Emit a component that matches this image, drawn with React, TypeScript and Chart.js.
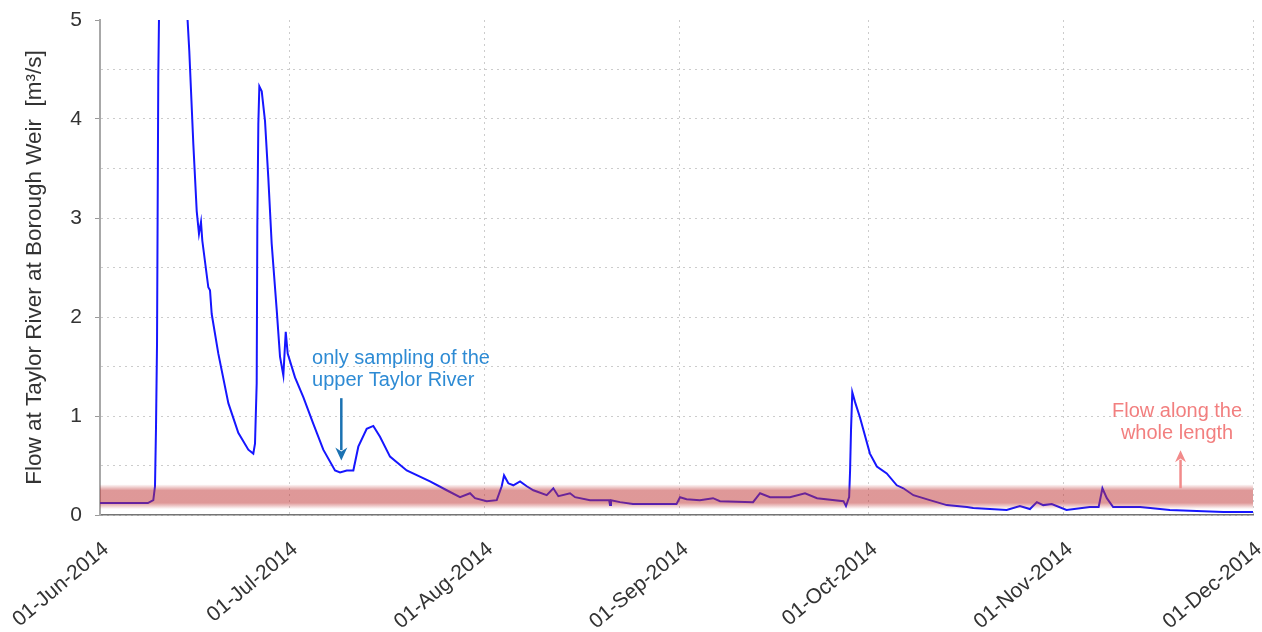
import { useEffect, useRef } from "react";
import { Chart, registerables } from "chart.js";

Chart.register(...registerables);

// Days since 01-Jun-2014 for each gauged reading
const dayOffsets = [
  0, 7.6, 8.46, 8.73, 8.89, 9.05, 9.25, 9.7, 11.0, 12.5, 13.9, 14.17, 14.81, 15.35, 15.71, 16.03,
  16.24, 17.19, 17.46, 17.73, 18.78, 20.37, 21.95, 23.54, 24.33, 24.6, 24.87, 24.97, 25.13, 25.29,
  25.67, 26.19, 26.71, 27.25, 28.05, 28.57, 29.1, 29.48, 29.79, 30.95, 32.27, 33.86, 35.44, 37.3,
  38.1, 39.16, 40.21, 41.0, 42.33, 43.38, 44.44, 46.03, 48.68, 52.38, 55.03, 57.14, 58.73, 59.52,
  61.38, 62.97, 63.76, 64.13, 64.81, 65.6, 66.67, 67.73, 68.78, 70.9, 71.95, 72.75, 74.6, 75.4,
  77.78, 80.8, 80.95, 81.1, 82.54, 84.6, 91.5, 92.06, 93.1, 95.2, 97.3, 98.4, 103.65, 104.76,
  106.35, 109.5, 111.9, 113.8, 118.0, 118.4, 118.9, 119.05, 119.2, 119.4, 119.84, 120.6, 122.2,
  123.3, 124.87, 126.46, 127.5, 129.1, 131.7, 134.4, 137.6, 138.6, 143.9, 146.0, 147.6, 148.7,
  149.7, 151.06, 153.4, 157.1, 158.5, 159.1, 159.8, 160.8, 165.1, 166.7, 169.8, 178.3, 183,
];

// Flow at Borough Weir (m³/s)
const flowValues = [
  0.12, 0.12, 0.15, 0.29, 0.89, 1.73, 4.42, 6.8, 7.6, 6.2, 5.0, 4.69, 3.75, 3.07, 2.84, 2.96,
  2.77, 2.3, 2.27, 2.03, 1.63, 1.13, 0.83, 0.66, 0.62, 0.72, 1.33, 2.91, 3.95, 4.33,
  4.28, 3.98, 3.41, 2.74, 2.07, 1.6, 1.41, 1.85, 1.63, 1.39, 1.19, 0.92, 0.66, 0.45,
  0.43, 0.45, 0.45, 0.69, 0.87, 0.9, 0.79, 0.59, 0.45, 0.34, 0.25, 0.18, 0.22, 0.17,
  0.14, 0.15, 0.29, 0.4, 0.32, 0.3, 0.34, 0.29, 0.25, 0.2, 0.27, 0.19, 0.22, 0.18,
  0.15, 0.15, 0.1, 0.15, 0.13, 0.11, 0.11, 0.18, 0.16, 0.15, 0.17, 0.14, 0.13, 0.22,
  0.18, 0.18, 0.22, 0.17, 0.14, 0.09, 0.18, 0.45, 0.86, 1.24, 1.14, 0.99, 0.62,
  0.49, 0.42, 0.3, 0.27, 0.2, 0.15, 0.1, 0.08, 0.07, 0.05, 0.09, 0.06, 0.13,
  0.1, 0.11, 0.05, 0.08, 0.08, 0.27, 0.17, 0.08, 0.08, 0.07, 0.05, 0.03, 0.03,
];

const monthTickDays = [0, 30, 61, 92, 122, 153, 183];
const monthTickLabels = [
  "01-Jun-2014",
  "01-Jul-2014",
  "01-Aug-2014",
  "01-Sep-2014",
  "01-Oct-2014",
  "01-Nov-2014",
  "01-Dec-2014",
];

const yAxisTitle = "Flow at Taylor River at Borough Weir  [m³/s]";

// Flow range at which the river runs along its whole length
const wholeLengthBandLow = 0.06;
const wholeLengthBandHigh = 0.31;

// Notes placed in data coordinates (day, flow)
const upperNoteLines = ["only sampling of the", "upper Taylor River"];
const upperNoteAt = { day: 33.65, flow: 1.53 };
const upperArrow = { day: 38.3, from: 1.18, to: 0.55 };
const wholeNoteLines = ["Flow along the", "whole length"];
const wholeNoteAt = { day: 170.95, flow: 0.99 };
const wholeArrow = { day: 171.5, from: 0.27, to: 0.655 };

const FONT = "'Liberation Sans', Arial, sans-serif";

function drawArrow(
  ctx: CanvasRenderingContext2D,
  x: number,
  yFrom: number,
  yTo: number,
  color: string,
  width: number,
  headLen: number,
  headHalf: number
) {
  const dir = yTo > yFrom ? 1 : -1;
  ctx.save();
  ctx.strokeStyle = color;
  ctx.fillStyle = color;
  ctx.lineWidth = width;
  ctx.beginPath();
  ctx.moveTo(x, yFrom);
  ctx.lineTo(x, yTo - dir * headLen * 0.8);
  ctx.stroke();
  ctx.beginPath();
  ctx.moveTo(x, yTo);
  ctx.lineTo(x - headHalf, yTo - dir * headLen);
  ctx.lineTo(x, yTo - dir * headLen * 0.7);
  ctx.lineTo(x + headHalf, yTo - dir * headLen);
  ctx.closePath();
  ctx.fill();
  ctx.restore();
}

const bandPlugin = {
  id: "wholeLengthBand",
  afterDatasetsDraw(chart: any) {
    const { ctx, chartArea, scales } = chart;
    const yTop = scales.y.getPixelForValue(wholeLengthBandHigh);
    const yBot = scales.y.getPixelForValue(wholeLengthBandLow);
    const g = ctx.createLinearGradient(0, yTop, 0, yBot);
    g.addColorStop(0, "rgba(190,50,50,0)");
    g.addColorStop(0.25, "rgba(190,50,50,0.5)");
    g.addColorStop(0.75, "rgba(190,50,50,0.5)");
    g.addColorStop(1, "rgba(190,50,50,0)");
    ctx.save();
    ctx.fillStyle = g;
    ctx.fillRect(chartArea.left, yTop, chartArea.right - chartArea.left, yBot - yTop);
    ctx.restore();
  },
};

const notesPlugin = {
  id: "flowNotes",
  afterDraw(chart: any) {
    const { ctx, scales } = chart;
    const x = scales.x;
    const y = scales.y;
    const lineGap = 22;
    ctx.save();
    ctx.font = `20px ${FONT}`;
    ctx.textBaseline = "alphabetic";

    ctx.fillStyle = "#2e8bd4";
    ctx.textAlign = "left";
    const ux = x.getPixelForValue(upperNoteAt.day);
    const uy = y.getPixelForValue(upperNoteAt.flow);
    upperNoteLines.forEach((t, i) => ctx.fillText(t, ux, uy + i * lineGap));
    drawArrow(
      ctx,
      x.getPixelForValue(upperArrow.day),
      y.getPixelForValue(upperArrow.from),
      y.getPixelForValue(upperArrow.to),
      "#1b72b2",
      2.5,
      13,
      6
    );

    ctx.fillStyle = "#f27f7f";
    ctx.textAlign = "center";
    const wx = x.getPixelForValue(wholeNoteAt.day);
    const wy = y.getPixelForValue(wholeNoteAt.flow);
    wholeNoteLines.forEach((t, i) => ctx.fillText(t, wx, wy + i * lineGap));
    drawArrow(
      ctx,
      x.getPixelForValue(wholeArrow.day),
      y.getPixelForValue(wholeArrow.from),
      y.getPixelForValue(wholeArrow.to),
      "#f28a8a",
      2.5,
      12,
      5.5
    );
    ctx.restore();
  },
};

export default function App() {
  const canvasRef = useRef<HTMLCanvasElement>(null);

  useEffect(() => {
    document.body.style.margin = "0";
    const canvas = canvasRef.current;
    if (!canvas) return;
    const points = dayOffsets.map((d, i) => ({ x: d, y: flowValues[i] }));

    const chart = new Chart(canvas, {
      type: "line",
      data: {
        datasets: [
          {
            data: points,
            borderColor: "#1616ff",
            borderWidth: 2,
            pointRadius: 0,
            tension: 0,
            fill: false,
          },
        ],
      },
      options: {
        animation: false,
        responsive: false,
        devicePixelRatio: 1,
        layout: { padding: { left: 0, top: 20, right: 9, bottom: 0 } },
        plugins: { legend: { display: false }, tooltip: { enabled: false } },
        scales: {
          x: {
            type: "linear",
            min: 0,
            max: 183,
            afterBuildTicks: (s: any) => {
              s.ticks = monthTickDays.map((v) => ({ value: v }));
            },
            afterFit: (s: any) => {
              s.height = 117;
              s.paddingLeft = 0;
              s.paddingRight = 0;
            },
            ticks: {
              autoSkip: false,
              minRotation: 40,
              maxRotation: 40,
              padding: 22,
              labelOffset: 6,
              color: "#333333",
              font: { family: FONT, size: 21 },
              callback: (v: any) => {
                const i = monthTickDays.indexOf(Number(v));
                return i >= 0 ? monthTickLabels[i] : "";
              },
            },
            grid: {
              color: "#cccccc",
              lineWidth: 1,
              drawTicks: false,
            },
            border: { display: true, color: "#757575", width: 1.5, dash: [2, 4] },
          },
          y: {
            min: 0,
            max: 5,
            afterBuildTicks: (s: any) => {
              const t = [];
              for (let v = 0; v <= 10; v++) t.push({ value: v / 2 });
              s.ticks = t;
            },
            afterFit: (s: any) => {
              s.width = 100;
              s.paddingTop = 0;
              s.paddingBottom = 0;
            },
            ticks: {
              autoSkip: false,
              padding: 13,
              color: "#333333",
              font: { family: FONT, size: 21 },
              callback: (v: any) => (Number.isInteger(Number(v)) ? String(v) : ""),
            },
            grid: {
              color: (c: any) => (c.tick && c.tick.value === 5 ? "rgba(0,0,0,0)" : "#cccccc"),
              lineWidth: 1,
              drawTicks: true,
              tickLength: 5,
              tickColor: (c: any) =>
                c.tick && Number.isInteger(c.tick.value) ? "#9a9a9a" : "rgba(0,0,0,0)",
            },
            border: { display: true, color: "#a8a8a8", width: 2, dash: [2, 4] },
            title: {
              display: true,
              text: yAxisTitle,
              color: "#333333",
              font: { family: FONT, size: 22.5 },
              padding: { top: 21, bottom: 0 },
            },
          },
        },
      },
      plugins: [bandPlugin, notesPlugin],
    } as any);

    return () => chart.destroy();
  }, []);

  return (
    <div style={{ width: 1262, height: 632 }}>
      <canvas ref={canvasRef} width={1262} height={632} style={{ display: "block" }} />
    </div>
  );
}
